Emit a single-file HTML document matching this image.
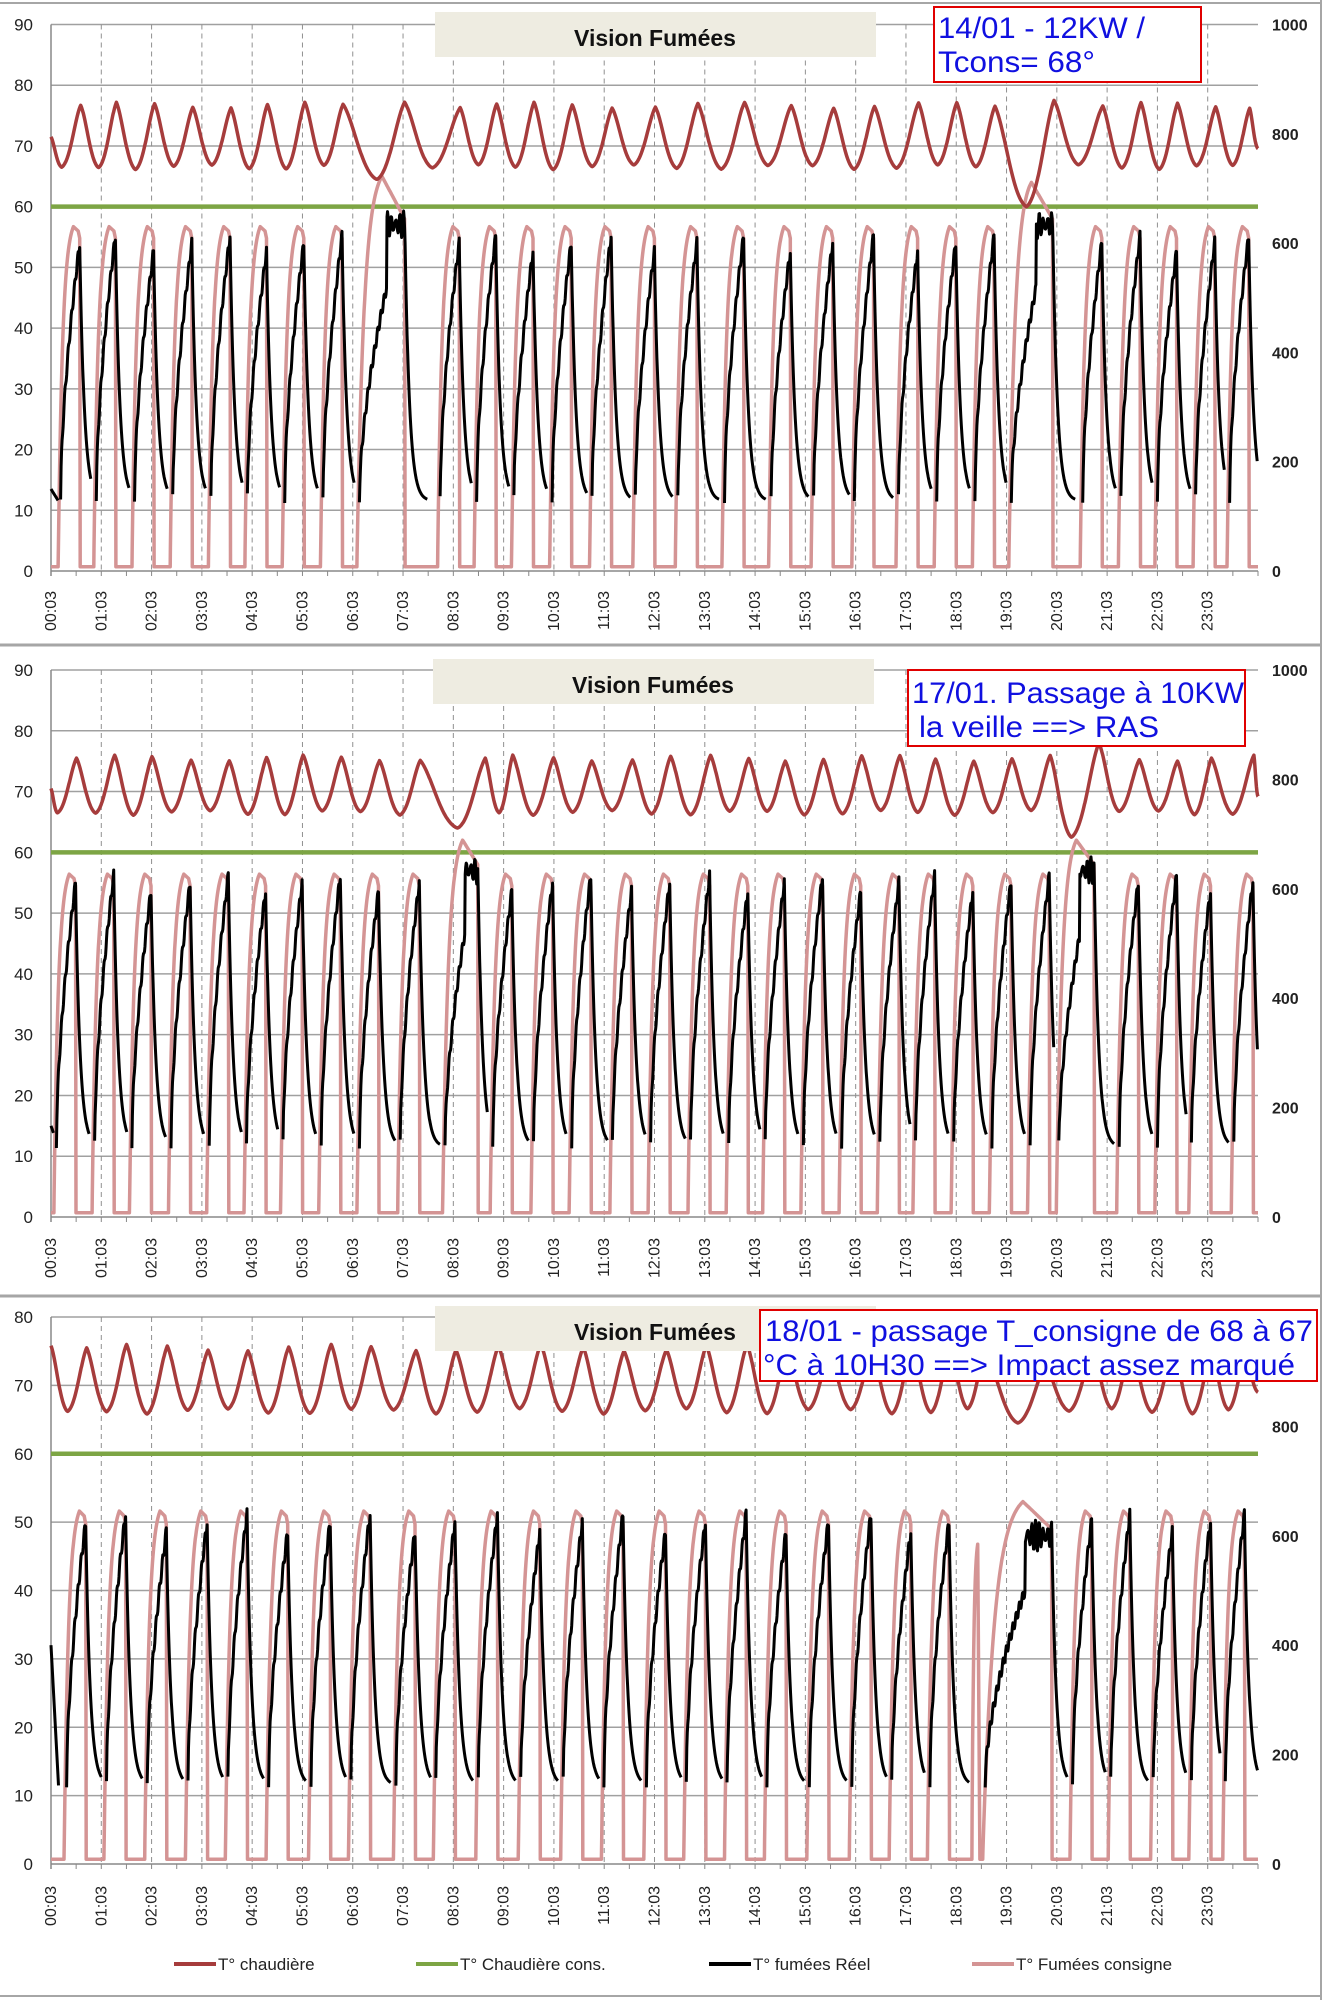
<!DOCTYPE html>
<html><head><meta charset="utf-8">
<style>
body{margin:0;background:#fff;}
svg{display:block;}
text{font-family:"Liberation Sans",sans-serif;}
</style></head>
<body>
<svg id="s" width="1331" height="2000" viewBox="0 0 1331 2000" xmlns="http://www.w3.org/2000/svg">
<rect width="1331" height="2000" fill="#fff"/>
<line x1="0" y1="3" x2="1322" y2="3" stroke="#a6a6a6" stroke-width="2"/>
<line x1="0" y1="645" x2="1322" y2="645" stroke="#a6a6a6" stroke-width="3"/>
<line x1="0" y1="1296" x2="1322" y2="1296" stroke="#a6a6a6" stroke-width="3"/>
<line x1="0" y1="1996" x2="1322" y2="1996" stroke="#a6a6a6" stroke-width="2"/>
<line x1="1321" y1="0" x2="1321" y2="2000" stroke="#a6a6a6" stroke-width="2"/>
<g id="g"></g>
<rect x="435" y="12" width="441" height="45" fill="#eeece1"/>
<text x="655" y="46" text-anchor="middle" font-size="23" font-weight="bold" fill="#111">Vision Fumées</text>
<rect x="433" y="659" width="441" height="45" fill="#eeece1"/>
<text x="653" y="693" text-anchor="middle" font-size="23" font-weight="bold" fill="#111">Vision Fumées</text>
<rect x="435" y="1306" width="441" height="45" fill="#eeece1"/>
<text x="655" y="1340" text-anchor="middle" font-size="23" font-weight="bold" fill="#111">Vision Fumées</text>
<rect x="934" y="7" width="267" height="75" fill="#fff" stroke="#e00000" stroke-width="2"/>
<text x="938" y="38" font-size="30" fill="#1010e0" textLength="207" lengthAdjust="spacingAndGlyphs">14/01 - 12KW /</text>
<text x="938" y="72" font-size="30" fill="#1010e0" textLength="157" lengthAdjust="spacingAndGlyphs">Tcons= 68°</text>
<rect x="908" y="670" width="337" height="76" fill="#fff" stroke="#e00000" stroke-width="2"/>
<text x="912" y="703" font-size="30" fill="#1010e0" textLength="332" lengthAdjust="spacingAndGlyphs">17/01. Passage à 10KW</text>
<text x="919" y="737" font-size="30" fill="#1010e0" textLength="240" lengthAdjust="spacingAndGlyphs">la veille ==&gt; RAS</text>
<rect x="760" y="1310" width="557" height="71" fill="#fff" stroke="#e00000" stroke-width="2"/>
<text x="765" y="1341" font-size="30" fill="#1010e0" textLength="548" lengthAdjust="spacingAndGlyphs">18/01 - passage T_consigne de 68 à 67</text>
<text x="763" y="1375" font-size="30" fill="#1010e0" textLength="532" lengthAdjust="spacingAndGlyphs">°C à 10H30 ==&gt; Impact assez marqué</text>
<line x1="174" y1="1964" x2="216" y2="1964" stroke="#a63c3c" stroke-width="4"/>
<text x="218" y="1970" font-size="17" fill="#222">T° chaudière</text>
<line x1="416" y1="1964" x2="458" y2="1964" stroke="#7da544" stroke-width="4"/>
<text x="460" y="1970" font-size="17" fill="#222">T° Chaudière cons.</text>
<line x1="709" y1="1964" x2="751" y2="1964" stroke="#000" stroke-width="4"/>
<text x="753" y="1970" font-size="17" fill="#222">T° fumées Réel</text>
<line x1="972" y1="1964" x2="1014" y2="1964" stroke="#d49494" stroke-width="4"/>
<text x="1016" y="1970" font-size="17" fill="#222">T° Fumées consigne</text>
</svg>
<script>
(function(){
var NS="http://www.w3.org/2000/svg";
var G=document.getElementById('g');
function el(n,a,t){var e=document.createElementNS(NS,n);for(var k in a)e.setAttribute(k,a[k]);if(t!==undefined)e.textContent=t;G.appendChild(e);return e;}
var X0=51,X1=1258,HW=(X1-X0)/24;
function hx(h){return X0+h*HW;}
function z2h(z){return (z/1.178-51)/HW;}
var charts=[
 {y0:571,top:24.5,max:90,step:10,labTop:591,
  peaks:[88,130,175,220,265,308,352,397,450,535,578,622,667,714,765,815,870,925,975,1023,1075,1120,1165,1215,1292,1337,1380,1425,1465],
  longs:{8:{hv:65,ds:-0.5,de:0.45,endv:58,rl:64.5,rh:77.2},23:{hv:64,ds:-0.45,de:0.42,endv:58,rl:60,rh:77.5}},ph:56.8,bp:54,rmax:76.7,rmin:66.5,start0:13.5},
 {y0:1217,top:670,max:90,step:10,labTop:1238,
  peaks:[83,128,172,218,263,307,350,395,440,488,545,597,645,690,738,783,830,875,918,963,1008,1053,1095,1140,1185,1230,1268,1335,1380,1420,1470],
  longs:{10:{hv:62,ds:-0.4,de:0.3,endv:58,rl:64,rh:75.5},26:{hv:62,ds:-0.4,de:0.35,endv:58,rl:62.5,rh:78}},ph:56.5,bp:55,rmax:75.5,rmin:66.5,start0:15},
 {y0:1864,top:1317,max:80,step:10,labTop:1886,
  peaks:[95,142,190,238,285,333,383,430,483,530,580,630,680,728,778,825,873,920,970,1020,1067,1112,1152,1205,1280,1325,1375,1420,1460],
  longs:{22:{hv:47,ds:-0.12,de:0.03,endv:46,spike:true},23:{hv:53,ds:-0.8,de:0.57,endv:49,rl:64.5,rh:73}},ph:51.7,bp:50,rmax:75.5,rmin:66.2,start0:32}
];
charts.forEach(function(c,ci){
 var k=(c.y0-c.top)/c.max;
 function vy(v){return c.y0-v*k;}
 for(var v=c.step;v<=c.max;v+=c.step){el('line',{x1:X0,y1:vy(v),x2:X1,y2:vy(v),stroke:'#a0a0a0','stroke-width':1.5});}
 for(var h=1;h<24;h++){el('line',{x1:hx(h),y1:c.top,x2:hx(h),y2:c.y0,stroke:'#909090','stroke-width':1,'stroke-dasharray':'5,4'});}
 el('line',{x1:X0,y1:c.top,x2:X0,y2:c.y0+5,stroke:'#888','stroke-width':1.5});
 el('line',{x1:X0,y1:c.y0,x2:X1,y2:c.y0,stroke:'#888','stroke-width':1.5});
 for(var h=0;h<=24;h+=0.5){el('line',{x1:hx(h),y1:c.y0,x2:hx(h),y2:c.y0+5,stroke:'#888','stroke-width':1});}
 for(var v=0;v<=c.max;v+=c.step){el('text',{x:33,y:vy(v)+6,'text-anchor':'end','font-size':17,fill:'#222'},String(v));}
 for(var r=0;r<=1000;r+=200){var vv=r/1000*c.max;el('text',{x:1272,y:vy(vv)+6,'font-size':16,'font-weight':'bold',fill:'#222'},String(r));}
 for(var h=0;h<24;h++){var lab=(h<10?'0':'')+h+':03';var x=hx(h)+5;var y=c.labTop;
  el('text',{x:0,y:0,transform:'translate('+x+','+y+') rotate(-90)','text-anchor':'end','font-size':16,fill:'#222','font-family':'Liberation Mono, monospace'},lab);}
 el('line',{x1:X0,y1:vy(60),x2:X1,y2:vy(60),stroke:'#7da544','stroke-width':4.5});
 var P=c.peaks.map(z2h);
 var pul=P.map(function(p,i){var L=c.longs[i];
   if(L)return {s:p+L.ds,p:p,e:p+L.de,hv:L.hv,long:!L.spike,spike:!!L.spike,L:L};
   return {s:p-0.33,p:p-0.02,e:p+0.1,hv:c.ph};});
 var pk=[];var low=0.7;
 function lerpPts(arr,t0,t1,f){for(var t=t0;t<=t1+1e-9;t+=0.01)arr.push([t,f(t)]);}
 pk.push([0,low]);
 pul.forEach(function(q){
   pk.push([q.s,low]);
   lerpPts(pk,q.s+0.005,q.p,function(t){var u=(t-q.s)/(q.p-q.s);return low+(q.hv-low)*(1-Math.exp(-3.5*u))/(1-Math.exp(-3.5));});
   if(q.long){lerpPts(pk,q.p,q.e,function(t){return q.hv-(q.hv-q.L.endv)*(t-q.p)/(q.e-q.p);});}
   else if(!q.spike){pk.push([q.e-0.03,q.hv-0.8]);pk.push([q.e,q.hv-2]);}
   pk.push([q.e+0.01,low]);
 });
 pk.push([24,low]);
 function seg(arr){var d='';arr.forEach(function(pt,i){var t=Math.max(0,Math.min(24,pt[0]));d+=(i?'L':'M')+hx(t).toFixed(1)+','+vy(pt[1]).toFixed(1);});return d;}
 var bd='';
 var first=[];lerpPts(first,0,Math.min(0.15,pul[0].s),function(t){return c.start0-(c.start0-11.5)*t/0.15;});bd+=seg(first);
 pul.forEach(function(q,i){
   if(q.spike)return;
   var a=[];var nxt=i+1<pul.length?pul[i+1].s:24.2;
   var bpk=q.long?Math.min(q.hv-3,59):c.bp+(Math.sin(i*2.1)*1.5);
   var sb=q.s+0.05;
   lerpPts(a,sb,q.e,function(t){var u=(t-sb)/(q.e-sb);var base=12+(bpk-12)*Math.pow(u,0.6);if(q.long&&u>0.6)base=bpk-2+Math.sin(t*80)*1.5;return base+Math.sin(t*97)*0.8;});
   var end=Math.min(nxt-0.05,q.e+0.45,24);
   lerpPts(a,q.e+0.01,end,function(t){return 11.5+(bpk-11.5)*Math.exp(-(t-q.e)/0.09);});
   a=a.filter(function(p){return p[0]<=23.99;});
   bd+=seg(a);
 });
 var mx=[];
 pul.forEach(function(q,i){
   if(q.long&&q.L.rl!==undefined){mx.push({t:q.p-0.1,v:q.L.rl,tr:true});mx.push({t:q.p+0.45,v:q.L.rh});}
   else mx.push({t:q.p+0.14,v:c.rmax+Math.sin(i*1.3)*0.5});
 });
 var rstart=ci==0?71.5:(ci==1?70.5:75.8);
 var ex=[[0,rstart]];
 if(mx[0].t>0.3)ex.push([Math.max(0.1,mx[0].t-0.38),c.rmin]);
 mx.forEach(function(m,j){
   if(j>0&&!m.tr&&!mx[j-1].tr){ex.push([(mx[j-1].t+m.t)/2,c.rmin+Math.cos(j*1.7)*0.4]);}
   ex.push([m.t,m.v]);
 });
 var lastT=ex[ex.length-1][0];
 if(lastT+0.38<24){ex.push([lastT+0.38,c.rmin]);ex.push([24,ci==1?75.5:72.5]);}
 else ex.push([24,c.rmin+(c.rmax-c.rmin)*0.3]);
 var rd=[];
 for(var j=0;j<ex.length-1;j++){var a0=ex[j],a1=ex[j+1];
   for(var t=a0[0];t<a1[0];t+=0.01){var u=(t-a0[0])/(a1[0]-a0[0]);var f;
     if(a1[1]>a0[1]) f=Math.pow(u,1.3); else f=1-Math.pow(1-u,1.3);
     f=(1-Math.cos(Math.PI*f))/2*0.5+f*0.5;
     rd.push([t,a0[1]+(a1[1]-a0[1])*f]);}}
 rd.push(ex[ex.length-1]);
 el('path',{d:seg(pk),fill:'none',stroke:'#d49494','stroke-width':3.5,'stroke-linejoin':'round'});
 el('path',{d:bd,fill:'none',stroke:'#000','stroke-width':3,'stroke-linejoin':'round'});
 el('path',{d:seg(rd),fill:'none',stroke:'#a63c3c','stroke-width':3.5,'stroke-linejoin':'round'});
});
})();
</script>
</body></html>
